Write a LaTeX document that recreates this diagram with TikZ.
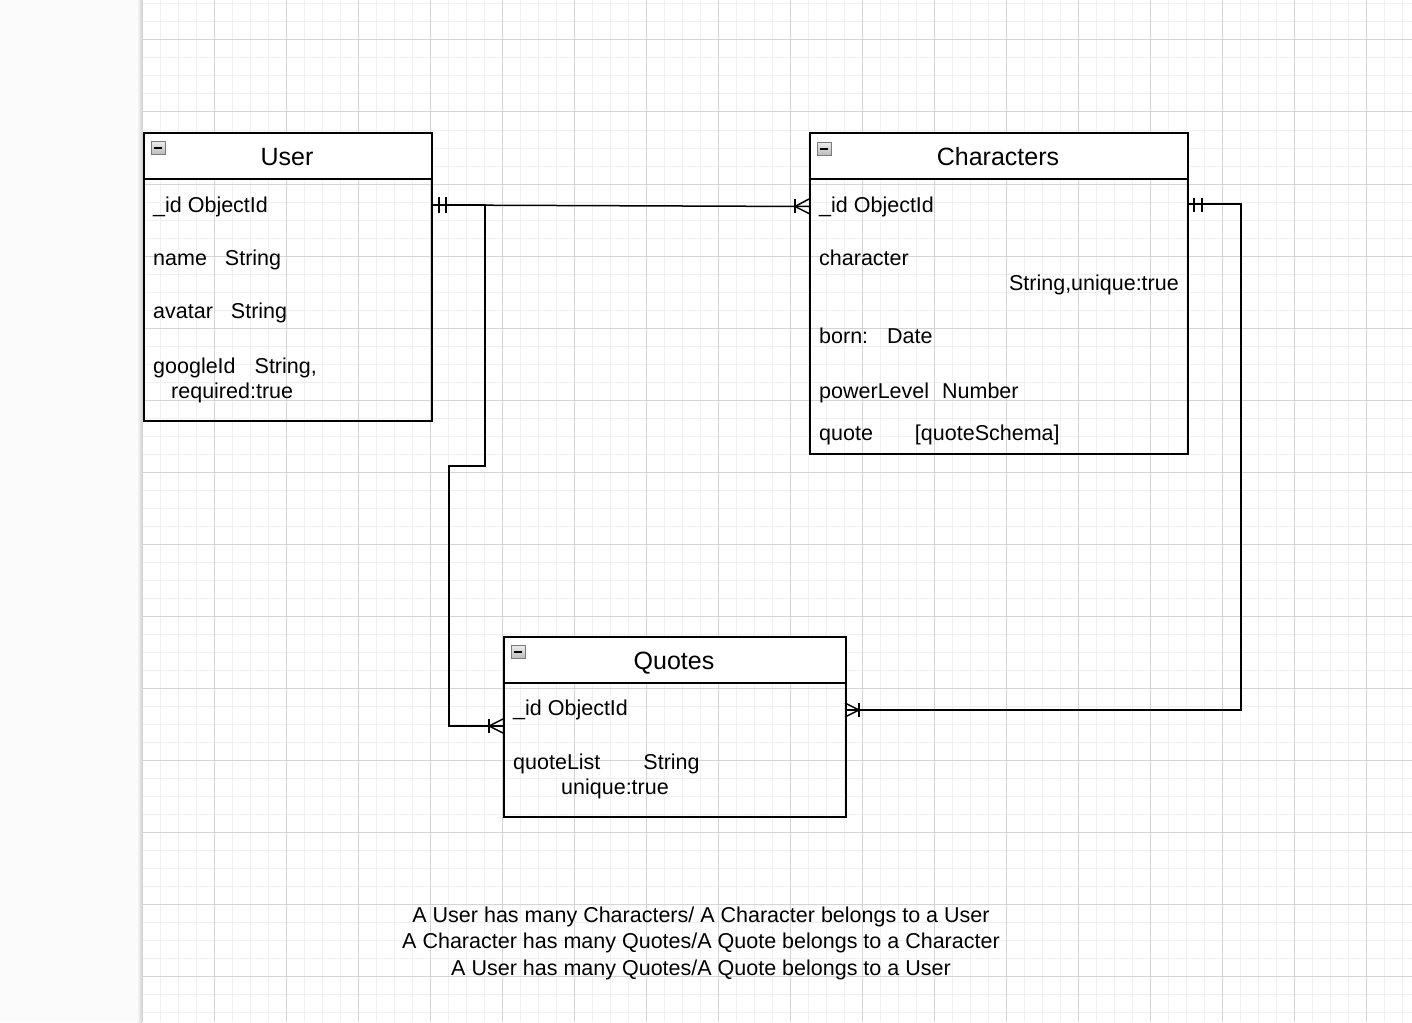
\documentclass[tikz,border=0pt]{standalone}
\usepackage{fontspec}
\setmainfont{Liberation Sans}
\definecolor{panel}{HTML}{FBFBFB}
\definecolor{gminor}{HTML}{F0F0F0}
\definecolor{gmajor}{HTML}{D4D4D4}
\definecolor{iconedge}{HTML}{7A7A7A}
\tikzset{
  minorline/.style={gminor, line width=1pt},
  majorline/.style={gmajor, line width=1pt},
  entbox/.style={draw=black, line width=1.8pt, rectangle, inner sep=0pt, anchor=north west},
  headfill/.style={fill=white},
  sepline/.style={draw=black, line width=1.8pt},
  title/.style={anchor=base, inner sep=0pt, font=\fontsize{25}{30}\selectfont},
  field/.style={anchor=base west, inner sep=0pt, font=\fontsize{21.5}{25}\selectfont},
  fieldr/.style={anchor=base east, inner sep=0pt, font=\fontsize{21.5}{25}\selectfont},
  note/.style={anchor=base, inner sep=0pt, font=\fontsize{21.5}{25}\selectfont},
  minusicon/.style={rectangle, draw=iconedge, line width=1pt, minimum width=14pt, minimum height=13pt,
    inner sep=0pt, top color=gray!15, bottom color=gray!55,
    path picture={\draw[black, line width=1.6pt]
      ([xshift=3pt]path picture bounding box.west) -- ([xshift=-3pt]path picture bounding box.east);}},
  conn/.style={draw=black, line width=1.5pt},
  ermark/.style={draw=black, line width=1.5pt},
  ermarkthick/.style={draw=black, line width=2.3pt}
}
\begin{document}
\begin{tikzpicture}[x=1pt,y=-1pt]
\useasboundingbox (0,0) rectangle (1412,1022);
\fill[white] (0,0) rectangle (1412,1022);
% grid
\foreach \k in {0,...,70} {\draw[minorline] (142.5+18*\k,0) -- (142.5+18*\k,1022);}
\foreach \k in {0,...,56} {\draw[minorline] (142.5,4+18*\k) -- (1412,4+18*\k);}
\foreach \k in {0,...,17} {\draw[majorline] (142.5+72*\k,0) -- (142.5+72*\k,1022);}
\foreach \k in {0,...,13} {\draw[majorline] (142.5,40+72*\k) -- (1412,40+72*\k);}
% left panel
\fill[panel] (0,0) rectangle (140,1022);
\shade[left color=panel, right color=gray!35] (137,0) rectangle (142,1022);

% ===== User =====
\fill[headfill] (143,132) rectangle (431,179);
\node[entbox, minimum width=288pt, minimum height=288pt] (user) at (143,132) {};
\draw[sepline] (143,179) -- (431,179);
\node[minusicon] (usericon) at (158,148) {};
\node[title] (usertitle) at (287,165) {User};
\node[field] (u1) at (153,212) {\_id ObjectId};
\node[field] (u2) at (153,265) {name\hspace{18pt}String};
\node[field] (u3) at (153,318) {avatar\hspace{18pt}String};
\node[field] (u4) at (153,373) {googleId\hspace{19pt}String,};
\node[field] (u5) at (171,398) {required:true};

% ===== Characters =====
\fill[headfill] (809,132) rectangle (1187,179);
\node[entbox, minimum width=378pt, minimum height=321pt] (chars) at (809,132) {};
\draw[sepline] (809,179) -- (1187,179);
\node[minusicon] (charicon) at (824,149) {};
\node[title] (chartitle) at (998,165) {Characters};
\node[field] (c1) at (819,212) {\_id ObjectId};
\node[field] (c2) at (819,265) {character};
\node[fieldr] (c3) at (1179,290) {String,unique:true};
\node[field] (c4) at (819,343) {born:\hspace{19pt}Date};
\node[field] (c5) at (819,398) {powerLevel\hspace{13pt}Number};
\node[field] (c6) at (819,440) {quote\hspace{42pt}[quoteSchema]};

% ===== Quotes =====
\fill[headfill] (503,636) rectangle (845,683);
\node[entbox, minimum width=342pt, minimum height=180pt] (quotes) at (503,636) {};
\draw[sepline] (503,683) -- (845,683);
\node[minusicon] (quoteicon) at (518,652) {};
\node[title] (quotetitle) at (674,669) {Quotes};
\node[field] (q1) at (513,715) {\_id ObjectId};
\node[field] (q2) at (513,769) {quoteList\hspace{43pt}String};
\node[field] (q3) at (561,794) {unique:true};

% ===== connectors =====
\coordinate (uR) at (431,205);
\coordinate (cL) at (809,206.5);
\coordinate (cR) at (1187,204);
\coordinate (qL) at (503,726);
\coordinate (qR) at (845,710);

\draw[conn] (uR) -- (cL);
\draw[conn] (uR) -- (485,205) -- (485,466) -- (449,466) -- (449,726) -- (qL);
\draw[conn] (cR) -- (1241,204) -- (1241,710) -- (qR);

% markers: User side (mandatory one, doubled)
\draw[ermarkthick] (439,197) -- (439,213);
\draw[ermarkthick] (446,197) -- (446,213);
% Characters right side (mandatory one)
\draw[ermark] (1194,198) -- (1194,212);
\draw[ermark] (1202,198) -- (1202,212);
% Characters left (one to many)
\draw[ermark] (795,199) -- (795,213);
\draw[ermark] (809,199) -- (795,206.5) -- (809,213.5);
% Quotes left (one to many)
\draw[ermark] (489,719) -- (489,733);
\draw[ermark] (503,719) -- (489,726) -- (503,733);
% Quotes right (one to many)
\draw[ermark] (859,703) -- (859,717);
\draw[ermark] (845,703) -- (859,710) -- (845,717);

% ===== notes =====
\node[note] (n1) at (701,922) {A User has many Characters/ A Character belongs to a User};
\node[note] (n2) at (701,948.5) {A Character has many Quotes/A Quote belongs to a Character};
\node[note] (n3) at (701,975) {A User has many Quotes/A Quote belongs to a User};
\end{tikzpicture}
\end{document}
